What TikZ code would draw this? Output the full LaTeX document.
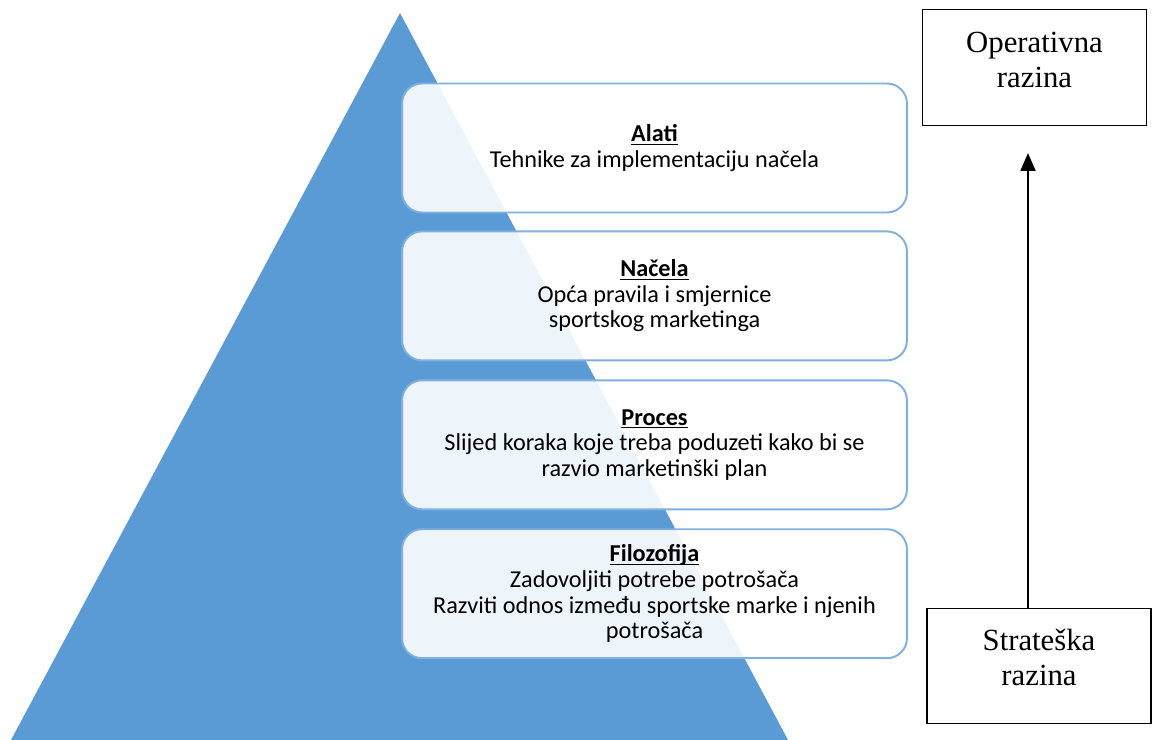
\documentclass[tikz,border=0pt]{standalone}
\usepackage{fontspec}
\setmainfont{Liberation Serif}
\newfontfamily\boxfont{Carlito}
\definecolor{PyramidBlue}{HTML}{5B9BD5}
\definecolor{LevelBorder}{HTML}{7FB0E1}
\usetikzlibrary{arrows.meta, positioning}
\newcommand{\leveltitle}[1]{\underline{\raisebox{0pt}[\height][0pt]{\textbf{#1}}}}

\tikzset{
  levelbox/.style={draw=LevelBorder, line width=1.1pt, rounded corners=0.4cm,
    fill=white, fill opacity=0.9, text opacity=1, align=center,
    minimum width=10.1cm, minimum height=2.58cm,
    font=\boxfont\fontsize{13.8}{14.6}\selectfont},
  rangebox/.style={draw, line width=0.8pt, minimum width=4.48cm, minimum height=2.31cm},
  rangetext/.style={anchor=north, align=center, inner sep=0pt,
    font=\fontsize{17.5}{20}\selectfont},
}

\begin{document}
\begin{tikzpicture}[x=0.02cm, y=-0.02cm]

\useasboundingbox (0,0) rectangle (1157,740);

\fill [PyramidBlue] (400,13) -- (788,740) -- (11,740) -- cycle;

\node [levelbox] (alati) at (654.5,148)
      {\leveltitle{Alati}\\Tehnike za implementaciju načela};
\node [levelbox, below=0.34cm of alati] (nacela)
      {\leveltitle{Načela}\\Opća pravila i smjernice\\sportskog marketinga};
\node [levelbox, below=0.36cm of nacela] (proces)
      {\leveltitle{Proces}\\Slijed koraka koje treba poduzeti kako bi se\\razvio marketinški plan};
\node [levelbox, below=0.36cm of proces] (filozofija)
      {\leveltitle{Filozofija}\\Zadovoljiti potrebe potrošača\\Razviti odnos između sportske marke i njenih\\potrošača};

\node [rangebox] (operativna) at (1034.5,67.5) {};
\node [rangetext, below=0.46cm of operativna.north] (operativnatext) {Operativna\\razina};
\node [rangebox] (strateska) at (1039,666) {};
\node [rangetext, below=0.42cm of strateska.north] (strateskatext) {Strateška\\razina};

\coordinate (vrh) at (1028,153);
\draw [line width=1.1pt, -{Triangle[width=0.3cm, length=0.36cm]}]
      (vrh |- strateska.north) -- (vrh);

\end{tikzpicture}
\end{document}
